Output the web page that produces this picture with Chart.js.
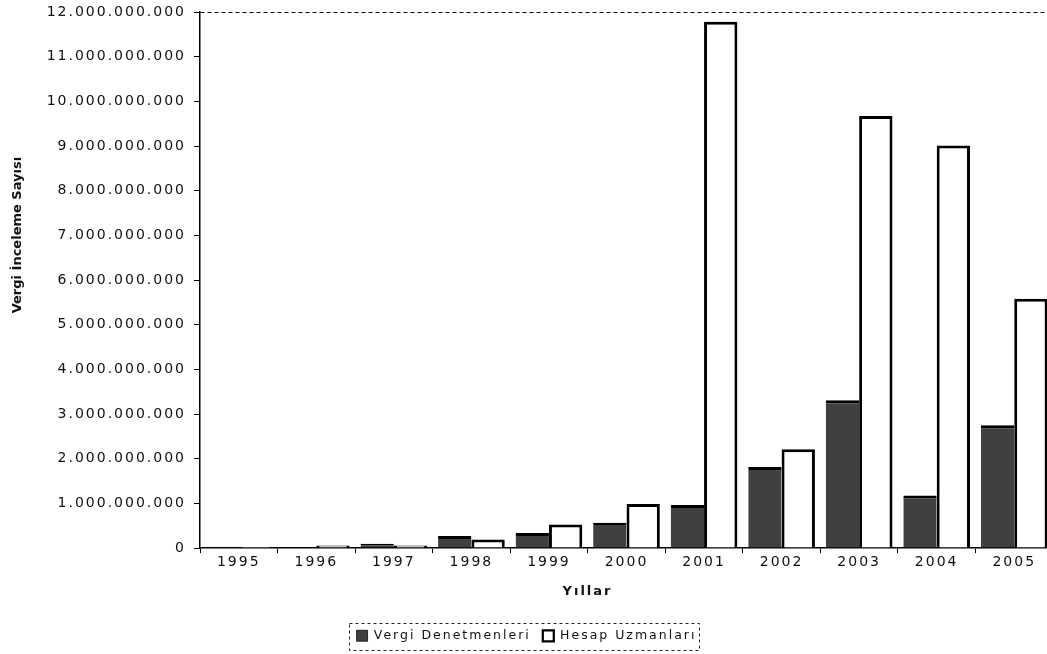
<!DOCTYPE html>
<html>
<head>
<meta charset="utf-8">
<script src="https://cdn.jsdelivr.net/npm/chart.js@4/dist/chart.umd.min.js"></script>
<style>
  html, body { margin: 0; padding: 0; background: #fff; overflow: hidden; }
  #wrap { position: relative; width: 1062px; height: 654px; }
</style>
</head>
<body>
<div id="wrap"><canvas id="chart"></canvas></div>
<script>
// Yıllara göre vergi inceleme sayıları
const years = ['1995', '1996', '1997', '1998', '1999', '2000', '2001', '2002', '2003', '2004', '2005'];
const vergiDenetmenleri = [30e6, 20e6, 100e6, 270e6, 340e6, 570e6, 965e6, 1815e6, 3310e6, 1180e6, 2750e6];
const hesapUzmanlari = [5e6, 60e6, 60e6, 195e6, 530e6, 985e6, 11780e6, 2210e6, 9670e6, 9010e6, 5580e6];
const yTicks = [0, 1e9, 2e9, 3e9, 4e9, 5e9, 6e9, 7e9, 8e9, 9e9, 10e9, 11e9, 12e9];
const yTitle = 'Vergi İnceleme Sayısı';
const xTitle = 'Yıllar';

const fmt = v => String(v).replace(/\B(?=(\d{3})+(?!\d))/g, '.');
const ink = '#111';
const fam = '"DejaVu Sans", sans-serif';
const tickFont = { family: fam, size: 14 };

// the scanned chart uses a wide, loosely spaced face
const spacing = {
  id: 'spacing',
  beforeUpdate(chart) { chart.ctx.letterSpacing = '2px'; },
  beforeDraw(chart) { chart.ctx.letterSpacing = '2px'; }
};

// axis titles (drawn by hand so they sit where the original has them) + dotted legend frame
const extras = {
  id: 'extras',
  afterDraw(chart) {
    const ctx = chart.ctx;
    const a = chart.chartArea;
    ctx.save();
    ctx.letterSpacing = '0px';
    ctx.fillStyle = ink;
    ctx.font = 'bold 13px ' + fam;
    ctx.textAlign = 'center';
    ctx.textBaseline = 'middle';
    ctx.save();
    ctx.translate(18, (a.top + a.bottom) / 2 - 45);
    ctx.rotate(-Math.PI / 2);
    ctx.fillText(yTitle, 0, 0);
    ctx.restore();
    ctx.letterSpacing = '2px';
    ctx.fillText(xTitle, (a.left + a.right) / 2 - 39, a.bottom + 44);

    const boxes = chart.legend && chart.legend.legendHitBoxes;
    if (boxes && boxes.length) {
      const first = boxes[0], last = boxes[boxes.length - 1];
      ctx.strokeStyle = '#222';
      ctx.lineWidth = 1;
      ctx.setLineDash([3, 3]);
      ctx.strokeRect(Math.round(first.left) - 7.5, Math.round(first.top) - 6.5,
        Math.round(last.left + last.width - first.left) + 10, Math.round(first.height) + 14);
    }
    ctx.restore();
  }
};

new Chart(document.getElementById('chart'), {
  type: 'bar',
  data: {
    labels: years,
    datasets: [
      { label: 'Vergi Denetmenleri', data: vergiDenetmenleri, backgroundColor: '#404040', borderColor: '#000', borderWidth: { top: 3, left: 0, right: 0, bottom: 0 }, borderSkipped: 'start' },
      { label: 'Hesap Uzmanları', data: hesapUzmanlari, backgroundColor: '#fff', borderColor: '#000', borderWidth: { top: 3, left: 3, right: 3, bottom: 0 }, borderSkipped: 'start' }
    ]
  },
  options: {
    responsive: true,
    maintainAspectRatio: false,
    animation: false,
    categoryPercentage: 0.86,
    barPercentage: 1,
    layout: { padding: { top: 0, right: 9, bottom: 2, left: 0 } },
    plugins: {
      tooltip: { enabled: false },
      legend: {
        position: 'bottom',
        labels: { color: ink, font: { family: fam, size: 12.5 }, boxWidth: 11, boxHeight: 11, padding: 12 }
      }
    },
    scales: {
      x: {
        ticks: { color: ink, font: tickFont, padding: 1 },
        grid: { display: true, drawOnChartArea: false, offset: true, color: '#000', tickLength: 5 },
        border: { color: '#000', width: 1.5 },
        // keeps room for the hand-drawn "Yıllar"
        title: { display: true, text: xTitle, color: 'rgba(0,0,0,0)', font: { family: fam, size: 13, weight: 'bold' }, padding: { top: 11, bottom: 19 } }
      },
      y: {
        min: 0,
        max: 12e9,
        afterBuildTicks: scale => { scale.ticks = yTicks.map(v => ({ value: v })); },
        afterFit: scale => { scale.width = 200; scale.paddingTop = 12; },
        ticks: { color: ink, font: tickFont, padding: 8, callback: v => fmt(v) },
        grid: { drawOnChartArea: true, color: ctx => ctx.tick && ctx.tick.value === 12e9 ? '#000' : 'rgba(0,0,0,0)', tickColor: '#000', tickLength: 6 },
        border: { color: '#000', width: 1.5, dash: [4, 3] }
      }
    }
  },
  plugins: [spacing, extras]
});
</script>
</body>
</html>
